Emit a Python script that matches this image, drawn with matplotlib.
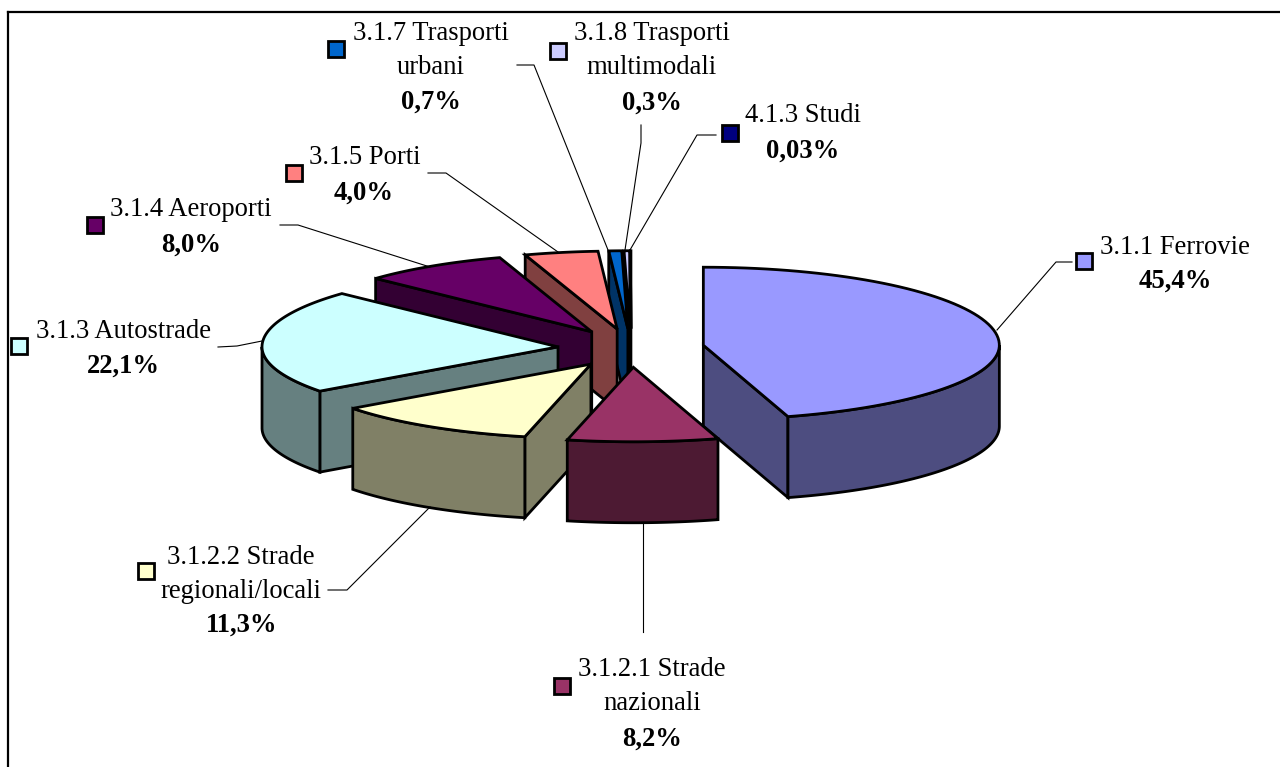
import numpy as np
import matplotlib
matplotlib.use("Agg")
import matplotlib.pyplot as plt
from matplotlib.patches import Polygon, Rectangle

# ---- data ----
names = ["3.1.1 Ferrovie", "3.1.2.1 Strade nazionali", "3.1.2.2 Strade regionali/locali",
         "3.1.3 Autostrade", "3.1.4 Aeroporti", "3.1.5 Porti",
         "3.1.7 Trasporti urbani", "3.1.8 Trasporti multimodali", "4.1.3 Studi"]
values = [45.4, 8.2, 11.3, 22.1, 8.0, 4.0, 0.7, 0.3, 0.03]
value_labels = ["45,4%", "8,2%", "11,3%", "22,1%", "8,0%", "4,0%", "0,7%", "0,3%", "0,03%"]
label_lines = [["3.1.1 Ferrovie"], ["3.1.2.1 Strade", "nazionali"], ["3.1.2.2 Strade", "regionali/locali"],
               ["3.1.3 Autostrade"], ["3.1.4 Aeroporti"], ["3.1.5 Porti"],
               ["3.1.7 Trasporti", "urbani"], ["3.1.8 Trasporti", "multimodali"], ["4.1.3 Studi"]]

# ---- style / layout ----
top_colors = ["#9999FF", "#993366", "#FFFFCC", "#CCFFFF", "#660066", "#FF8080", "#0066CC", "#CCCCFF", "#000080"]
side_colors = ["#4D4D80", "#4D1A33", "#808066", "#668080", "#330033", "#804040", "#003366", "#666680", "#000040"]
draw_order = [8, 7, 6, 5, 4, 3, 0, 2, 1]
CX, CY, RX, RY_BACK, RY_FRONT, DEPTH, EXPLODE = 631, 348, 296, 78, 74.5, 81, 0.247
EDGE = 2.0

# (x centre, y centre) of each text line; last one is the value
text_pos = [
    [(1175, 247), (1175, 281)],
    [(652, 670), (652, 704), (652, 739)],
    [(241, 557), (241, 591), (242, 625)],
    [(123, 331), (123, 366)],
    [(191, 209), (191, 245)],
    [(365, 157), (364, 193)],
    [(431, 33), (431, 67), (431, 102)],
    [(652, 34), (652, 68), (652, 103)],
    [(803, 116), (803, 151)],
]
key_pos = [(1084, 261), (562, 686), (146, 571), (19, 346), (95, 225), (294, 173), (336, 49), (558, 51), (730, 133)]
leaders = [
    [(1072, 262), (1056, 262), (997, 330)],
    [(643, 632), (643, 522)],
    [(328, 590), (347, 590), (430, 507)],
    [(218, 347), (237, 346), (262, 341)],
    [(280, 225), (298, 225), (430, 267)],
    [(428, 173), (446, 173), (558, 252)],
    [(517, 65), (534, 65), (608, 250)],
    [(641, 125), (641, 143), (625, 250)],
    [(716, 135), (697, 135), (630, 250)],
]

fig = plt.figure(figsize=(12.8, 7.67), dpi=100)
ax = fig.add_axes([0, 0, 1, 1])
ax.set_xlim(0, 1280)
ax.set_ylim(767, 0)
ax.axis("off")
plt.rcParams["font.family"] = ["Liberation Serif", "DejaVu Serif"]

# frame (runs past the right and bottom edges)
ax.plot([8, 8], [790, 12], color="black", lw=1.6, solid_capstyle="projecting")
ax.plot([8, 1300], [12, 12], color="black", lw=1.6, solid_capstyle="projecting")

vals = np.array(values, dtype=float)
edges = np.concatenate([[0], np.cumsum(vals) / vals.sum() * 2 * np.pi])


def arc(cx, cy, a0, a1, n=80):
    t = np.linspace(a0, a1, n)
    c = np.cos(t)
    return np.column_stack([cx + RX * np.sin(t), cy - np.where(c > 0, RY_BACK, RY_FRONT) * c])


def face(pts, color, z):
    ax.add_patch(Polygon(pts, closed=True, facecolor=color, edgecolor="black",
                         lw=EDGE, joinstyle="miter", zorder=z))


z = 2
for i in draw_order:
    a0, a1 = edges[i], edges[i + 1]
    mid = (a0 + a1) / 2
    cx = CX + EXPLODE * RX * np.sin(mid)
    cy = CY - EXPLODE * RY_BACK * np.cos(mid)
    apex = np.array([cx, cy])
    down = np.array([0, DEPTH])
    side = side_colors[i]
    # cut faces that turn toward the viewer
    if np.sin(a0) < -1e-9:
        r = arc(cx, cy, a0, a0, 1)[0]
        face([apex, r, r + down, apex + down], side, z); z += 0.01
    if np.sin(a1) > 1e-9:
        r = arc(cx, cy, a1, a1, 1)[0]
        face([apex, r, r + down, apex + down], side, z); z += 0.01
    # outer wall on the front half
    w0, w1 = max(a0, np.pi / 2), min(a1, 3 * np.pi / 2)
    if w1 > w0:
        rim = arc(cx, cy, w0, w1)
        face(np.vstack([rim, (rim + down)[::-1]]), side, z); z += 0.01
    # top
    face(np.vstack([apex, arc(cx, cy, a0, a1)]), top_colors[i], z); z += 0.01

# leaders, keys, labels
for pts in leaders:
    p = np.array(pts)
    ax.plot(p[:, 0], p[:, 1], color="black", lw=0.8, zorder=20)

KEY = 16
for (kx, ky), c in zip(key_pos, top_colors):
    ax.add_patch(Rectangle((kx - KEY / 2, ky - KEY / 2), KEY, KEY, facecolor=c,
                           edgecolor="black", lw=EDGE, zorder=21))

FS = 19.2
for lines, val, pos in zip(label_lines, value_labels, text_pos):
    for s, (x, y) in zip(lines, pos):
        ax.text(x, y, s, ha="center", va="center", fontsize=FS, color="black",
                family=["Liberation Serif", "DejaVu Serif"], zorder=22)
    x, y = pos[-1]
    ax.text(x, y, val, ha="center", va="center", fontsize=FS, fontweight="bold",
            color="black", family=["Liberation Serif", "DejaVu Serif"], zorder=22)

fig.savefig("out.png", dpi=100, facecolor="white")
